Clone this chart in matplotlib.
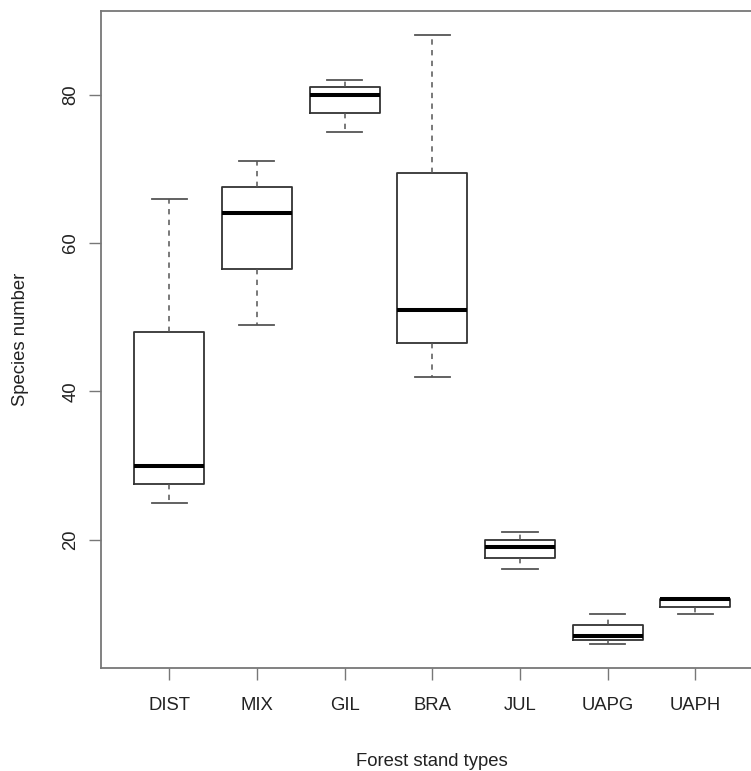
import matplotlib
matplotlib.use("Agg")
from matplotlib import pyplot as plt

# box statistics
stands = ["DIST", "MIX", "GIL", "BRA", "JUL", "UAPG", "UAPH"]
whisk_low = [25, 49, 75, 42, 16, 6, 10]
q1 = [27.5, 56.5, 77.5, 46.5, 17.5, 6.5, 11]
medians = [30, 64, 80, 51, 19, 7, 12]
q3 = [48, 67.5, 81, 69.5, 20, 8.5, 12]
whisk_high = [66, 71, 82, 88, 21, 10, 12]
yticks = [20, 40, 60, 80]

plt.rcParams["font.family"] = ["Liberation Sans", "DejaVu Sans"]
plt.rcParams["font.size"] = 13.3

stats = []
for i in range(len(stands)):
    stats.append({"label": stands[i], "whislo": whisk_low[i], "q1": q1[i],
                  "med": medians[i], "q3": q3[i], "whishi": whisk_high[i]})

fig = plt.figure(figsize=(7.51, 7.71), dpi=100)
ax = fig.add_axes([100.8 / 751, 103 / 771, 663 / 751, 657 / 771])

pos = list(range(1, len(stands) + 1))
ax.bxp(stats, positions=pos, widths=0.8, capwidths=0.4, showfliers=False,
       boxprops=dict(color="#333333", linewidth=1.3),
       medianprops=dict(color="black", linewidth=2.9),
       whiskerprops=dict(color="#555555", linewidth=1.1, linestyle=(0, (3.5, 3.5))),
       capprops=dict(color="#555555", linewidth=1.3))

ax.set_xlim(0.22, 7.78)
ax.set_ylim(2.72, 91.28)
ax.set_xticks(pos)
ax.set_xticklabels(stands)
ax.set_yticks(yticks)
ax.set_yticklabels([str(v) for v in yticks], rotation=90, va="center")

for s in ax.spines.values():
    s.set_color("#777777")
    s.set_linewidth(1.3)
ax.tick_params(axis="both", length=8.6, width=1.0, color="#777777", labelcolor="#222222")
ax.tick_params(axis="x", pad=12)
ax.tick_params(axis="y", pad=7)

fig.text(21 / 751, 1 - 339.5 / 771, "Species number", rotation=90,
         ha="center", va="center", color="#222222")
fig.text(432 / 751, (771 - 766) / 771, "Forest stand types",
         ha="center", va="baseline", color="#222222")

fig.savefig("out.png", dpi=100)
